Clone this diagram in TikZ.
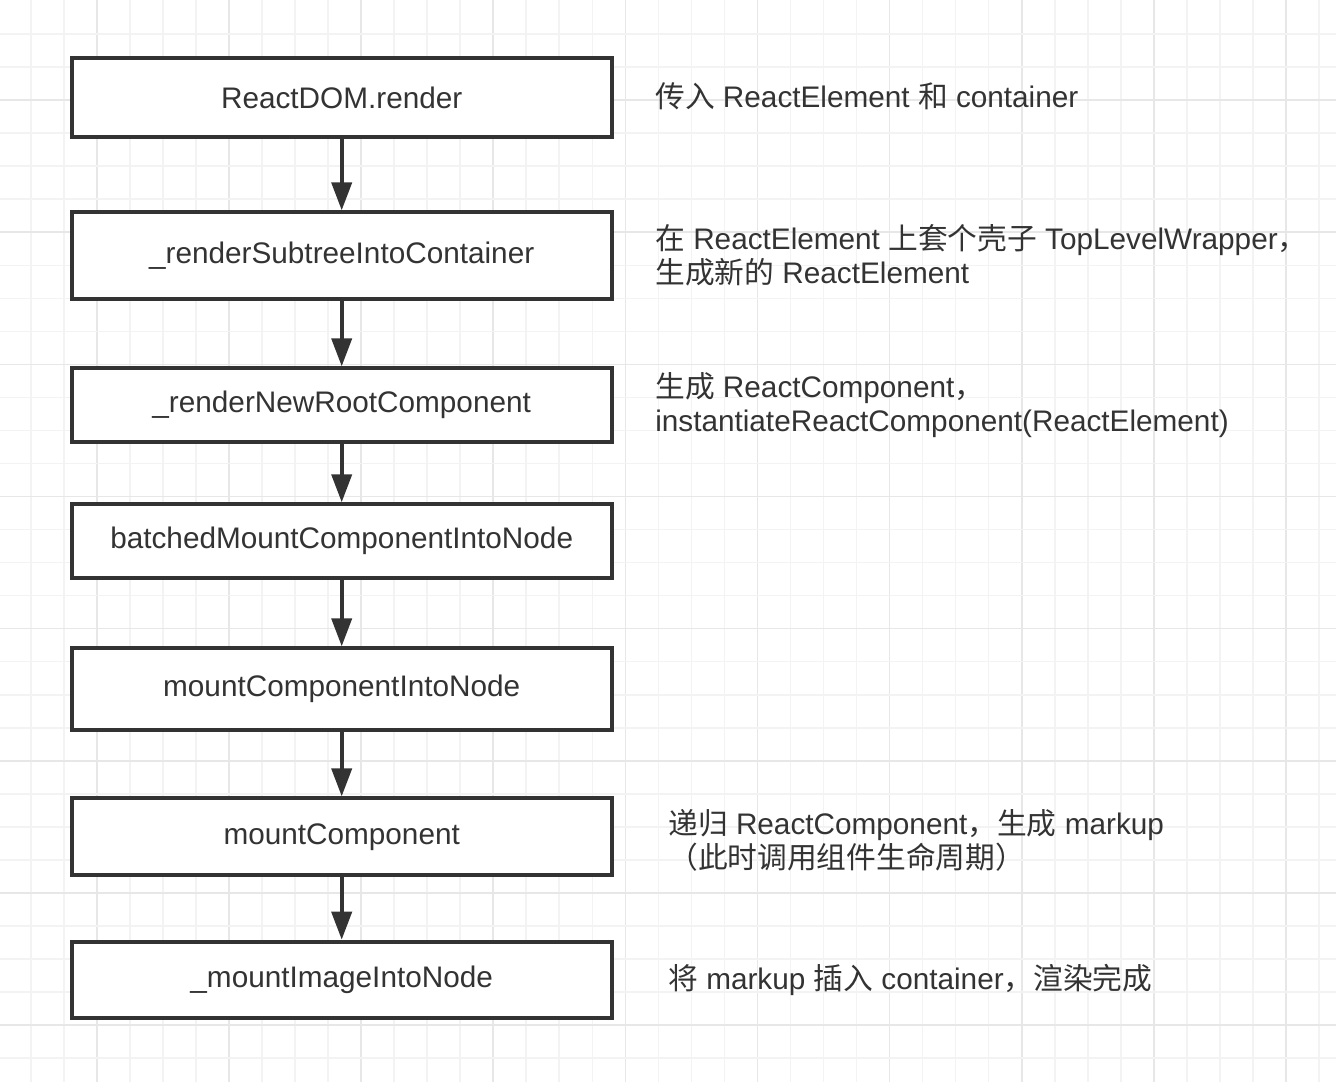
\documentclass[tikz,border=0pt]{standalone}
\usepackage{fontspec}
\setmainfont{Liberation Sans}
\newfontfamily\cjk{Noto Sans CJK SC}
\usetikzlibrary{arrows.meta}

\definecolor{inkgray}{RGB}{51,51,51}
\definecolor{gridlight}{RGB}{243,243,243}
\definecolor{griddark}{RGB}{231,231,231}

\tikzset{
  fnbox/.style={draw=inkgray, line width=3pt, fill=white, minimum width=405pt,
    inner sep=0pt, text=inkgray, font=\fontsize{22.3}{25.5}\selectfont},
  note/.style={anchor=west, align=left, inner sep=0pt, text=inkgray,
    font=\fontsize{22.3}{25.5}\selectfont},
  flow/.style={draw=inkgray, line width=3pt, -{Triangle[width=15pt,length=21pt]}}
}

\begin{document}
\begin{tikzpicture}[x=0.75pt,y=0.75pt,yscale=-1]
\useasboundingbox (0,0) rectangle (1336,1082);
\fill[white] (0,0) rectangle (1336,1082);

%Grid paper
\foreach \i in {0,...,39}{
  \pgfmathtruncatemacro{\r}{mod(\i,4)}
  \ifnum\r=2 \def\gc{griddark}\else \def\gc{gridlight}\fi
  \draw[\gc, line width=1.2pt] ({30.8+33.03*\i},0) -- ({30.8+33.03*\i},1082);
}
\foreach \j in {0,...,31}{
  \pgfmathtruncatemacro{\r}{mod(\j,4)}
  \ifnum\r=2 \def\gc{griddark}\else \def\gc{gridlight}\fi
  \draw[\gc, line width=1.2pt] (0,{34.1+33.03*\j}) -- (1336,{34.1+33.03*\j});
}

%Call chain
\node[fnbox, minimum height=58.8pt] (render) at (341.7,97.5) {ReactDOM.render};
\node[fnbox, minimum height=65pt] (subtree) at (341.7,255.7) {\_renderSubtreeIntoContainer};
\node[fnbox, minimum height=55pt] (newroot) at (341.7,405) {\_renderNewRootComponent};
\node[fnbox, minimum height=55.5pt] (batched) at (341.7,541.3) {batchedMountComponentIntoNode};
\node[fnbox, minimum height=61.3pt] (mountinto) at (341.7,689.2) {mountComponentIntoNode};
\node[fnbox, minimum height=57.5pt] (mountcomp) at (341.7,836.7) {mountComponent};
\node[fnbox, minimum height=57pt] (mountimage) at (341.7,979.7) {\_mountImageIntoNode};

%Arrows
\draw[flow] (render) -- (subtree);
\draw[flow] (subtree) -- (newroot);
\draw[flow] (newroot) -- (batched);
\draw[flow] (batched) -- (mountinto);
\draw[flow] (mountinto) -- (mountcomp);
\draw[flow] (mountcomp) -- (mountimage);

%Notes
\node[note] (noterender) at (655,96) {{\cjk 传入} ReactElement {\cjk 和} container};
\node[note] (notesubtree) at (655,255) {{\cjk 在} ReactElement {\cjk 上套个壳子} TopLevelWrapper{\cjk ，}\\{\cjk 生成新的} ReactElement};
\node[note] (notenewroot) at (655,405) {{\cjk 生成} ReactComponent{\cjk ，}\\instantiateReactComponent(ReactElement)};
\node[note] (notemountcomp) at (668,840.5) {{\cjk 递归} ReactComponent{\cjk ，生成} markup\\{\cjk （此时调用组件生命周期）}};
\node[note] (notemountimage) at (668,980) {{\cjk 将} markup {\cjk 插入} container{\cjk ，渲染完成}};

\end{tikzpicture}
\end{document}
